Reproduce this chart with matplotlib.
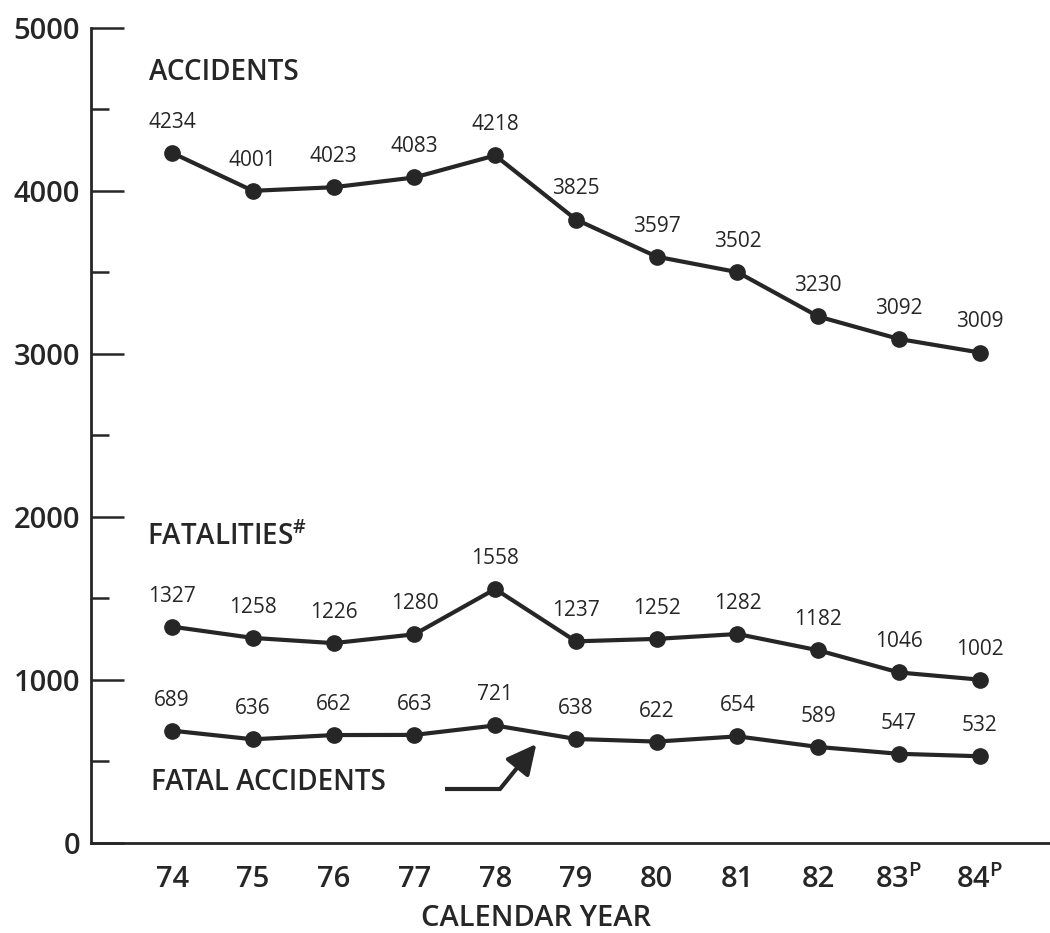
import matplotlib
matplotlib.use("Agg")
import matplotlib.pyplot as plt
import matplotlib.ticker as tkr

plt.rcParams['font.family'] = ['Open Sans', 'DejaVu Sans']
plt.rcParams['font.weight'] = 'semibold'
plt.rcParams['mathtext.fontset'] = 'custom'
plt.rcParams['mathtext.rm'] = 'Open Sans:semibold'
plt.rcParams['mathtext.it'] = 'Open Sans:italic'

# calendar years, 83 and 84 are preliminary
years = [74, 75, 76, 77, 78, 79, 80, 81, 82, 83, 84]
year_labels = ['74', '75', '76', '77', '78', '79', '80', '81', '82',
               r'83$^{\mathrm{P}}$', r'84$^{\mathrm{P}}$']

accidents = [4234, 4001, 4023, 4083, 4218, 3825, 3597, 3502, 3230, 3092, 3009]
fatalities = [1327, 1258, 1226, 1280, 1558, 1237, 1252, 1282, 1182, 1046, 1002]
fatal_accidents = [689, 636, 662, 663, 721, 638, 622, 654, 589, 547, 532]

ink = '#262626'

fig = plt.figure(figsize=(10.5, 9.33), dpi=100)
ax = fig.add_axes([0.087, 0.0965, 0.913, 0.8735])

for series in (accidents, fatalities, fatal_accidents):
  ax.plot(years, series, color=ink, lw=3, marker='o', ms=11, zorder=3)
  for x, v in zip(years, series):
    ax.annotate(str(v), (x, v), xytext=(0, 22), textcoords='offset points',
                ha='center', va='center', fontsize=15, color=ink,
                fontweight='normal')

ax.text(73.72, 4724, 'ACCIDENTS', fontsize=20, color=ink, va='center')
ax.text(73.69, 1877, r'FATALITIES$^{\#}$', fontsize=20, color=ink,
        va='center')
ax.text(73.74, 368, 'FATAL ACCIDENTS', fontsize=20, color=ink, va='center')

# bent arrow pointing at the fatal accidents line
ax.plot([77.38, 78.07], [331, 331], color=ink, lw=3, solid_capstyle='butt')
ax.annotate('', xy=(78.51, 607), xytext=(78.06, 331),
            arrowprops=dict(arrowstyle='-|>', lw=3, color=ink,
                            mutation_scale=45, shrinkA=0, shrinkB=0))

ax.set_xlim(73.0, 84.87)
ax.set_ylim(0, 5000)
ax.set_xticks(years)
ax.set_xticklabels(year_labels)
ax.yaxis.set_major_locator(tkr.MultipleLocator(1000))
ax.yaxis.set_minor_locator(tkr.MultipleLocator(500))

ax.spines['top'].set_visible(False)
ax.spines['right'].set_visible(False)
for s in ('left', 'bottom'):
  ax.spines[s].set_linewidth(2)
  ax.spines[s].set_color(ink)

ax.tick_params(axis='y', which='major', direction='in', length=24, width=1.8,
               labelsize=21, pad=8, colors=ink)
ax.tick_params(axis='y', which='minor', direction='in', length=13, width=1.8,
               colors=ink)
ax.tick_params(axis='x', length=0, labelsize=21, pad=16, colors=ink)

fig.text(0.511, 0.016, 'CALENDAR YEAR', fontsize=21, color=ink,
         ha='center', va='center')

fig.savefig('out.png', dpi=100)
